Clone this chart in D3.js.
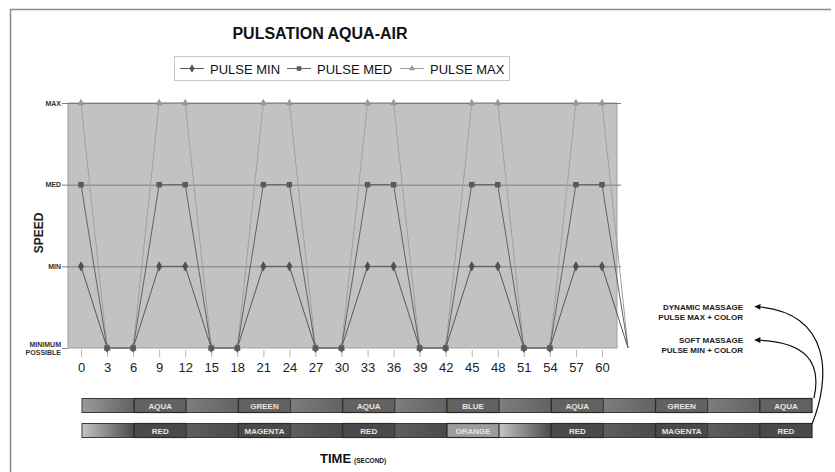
<!DOCTYPE html>
<html>
<head>
<meta charset="utf-8">
<script src="https://cdn.jsdelivr.net/npm/d3@7"></script>
<style>
  html, body { margin: 0; padding: 0; background: #fff; }
  svg { display: block; font-family: "Liberation Sans", Arial, sans-serif; }
</style>
</head>
<body>
<svg id="chart" width="835" height="472"></svg>
<script>
// Time in seconds (one point every 3 s, the last one runs past the frame)
const times = [0, 3, 6, 9, 12, 15, 18, 21, 24, 27, 30, 33, 36, 39, 42, 45, 48, 51, 54, 57, 60, 63];
const tickTimes = [0, 3, 6, 9, 12, 15, 18, 21, 24, 27, 30, 33, 36, 39, 42, 45, 48, 51, 54, 57, 60];

// Speed level: 0 = minimum possible, 1 = MIN, 2 = MED, 3 = MAX
const pulseMin = [1, 0, 0, 1, 1, 0, 0, 1, 1, 0, 0, 1, 1, 0, 0, 1, 1, 0, 0, 1, 1, 0];
const pulseMed = [2, 0, 0, 2, 2, 0, 0, 2, 2, 0, 0, 2, 2, 0, 0, 2, 2, 0, 0, 2, 2, 0];
const pulseMax = [3, 0, 0, 3, 3, 0, 0, 3, 3, 0, 0, 3, 3, 0, 0, 3, 3, 0, 0, 3, 3, 0];

const seriesNames = ["PULSE MIN", "PULSE MED", "PULSE MAX"];
const speedLevels = [0, 1, 2, 3];
const speedLabels = [["MINIMUM", "POSSIBLE"], ["MIN"], ["MED"], ["MAX"]];

// Colour programmes shown under the time axis (one block every 6 s)
const colorsTop = ["AQUA", "GREEN", "AQUA", "BLUE", "AQUA", "GREEN", "AQUA"];
const colorsBottom = ["RED", "MAGENTA", "RED", "ORANGE", "RED", "MAGENTA", "RED"];

const svg = d3.select("#chart");

const plot = { left: 68, right: 615, top: 103, bottom: 348 };
const x = d3.scaleLinear().domain([-1.5, 61.5]).range([plot.left, plot.right]);
const y = d3.scaleLinear().domain([0, 3]).range([plot.bottom, plot.top]);

// Outer frame (left and top edges)
svg.append("path")
  .attr("d", "M10.5,472 L10.5,9.5 L831,9.5")
  .attr("fill", "none").attr("stroke", "#8a8a8a").attr("stroke-width", 1.5);

// Title
svg.append("text")
  .attr("x", 320).attr("y", 39).attr("text-anchor", "middle")
  .attr("font-size", 16).attr("font-weight", "bold").attr("fill", "#111")
  .text("PULSATION AQUA-AIR");

// Plot background
svg.append("rect")
  .attr("x", plot.left).attr("y", plot.top)
  .attr("width", plot.right + 2 - plot.left).attr("height", plot.bottom - plot.top)
  .attr("fill", "#c2c2c2").attr("stroke", "#a0a0a0").attr("stroke-width", 1);

// Horizontal grid lines with their left ticks
svg.append("g").selectAll("line").data(speedLevels.slice(1)).join("line")
  .attr("x1", plot.left - 6).attr("x2", plot.right + 6)
  .attr("y1", d => y(d) + 0.5).attr("y2", d => y(d) + 0.5)
  .attr("stroke", "#7c7c7c").attr("stroke-width", 1);
svg.append("line")
  .attr("x1", plot.left - 6).attr("x2", plot.left)
  .attr("y1", y(0) + 0.5).attr("y2", y(0) + 0.5)
  .attr("stroke", "#9a9a9a");

// Time axis
const xAxis = d3.axisBottom(x).tickValues(tickTimes).tickSize(7).tickPadding(6).tickFormat(d3.format("d"));
const gx = svg.append("g").attr("transform", `translate(0,${plot.bottom + 2})`).call(xAxis);
gx.select(".domain").remove();
gx.selectAll(".tick line").attr("stroke", "#b5b5b5");
gx.selectAll(".tick text").attr("font-size", 13).attr("fill", "#222")
  .attr("font-family", "Liberation Sans, Arial, sans-serif");

// Speed level labels
const yl = svg.append("g").selectAll("text").data(speedLevels).join("text")
  .attr("text-anchor", "end").attr("font-size", 7).attr("font-weight", "bold").attr("fill", "#333")
  .attr("x", plot.left - 7)
  .attr("y", d => d === 0 ? y(d) - 1 : y(d) + 2.5);
yl.selectAll("tspan").data(d => speedLabels[d]).join("tspan")
  .attr("x", plot.left - 7)
  .attr("dy", (d, i) => i === 0 ? 0 : 8)
  .text(d => d);

svg.append("text")
  .attr("transform", `translate(43,233) rotate(-90)`)
  .attr("text-anchor", "middle").attr("font-size", 12).attr("font-weight", "bold").attr("fill", "#222")
  .text("SPEED");

// Series
const series = [
  { name: seriesNames[0], values: pulseMin, color: "#585858", marker: d3.symbolDiamond, size: 30, mcolor: "#505050" },
  { name: seriesNames[1], values: pulseMed, color: "#626262", marker: d3.symbolSquare, size: 30, mcolor: "#5a5a5a" },
  { name: seriesNames[2], values: pulseMax, color: "#a0a0a0", marker: d3.symbolTriangle, size: 24, mcolor: "#989898" }
];
const drawOrder = [0, 2, 1];
const line = d3.line().x((d, i) => x(times[i])).y(d => y(d));

drawOrder.forEach(k => {
  const s = series[k];
  svg.append("path").datum(s.values)
    .attr("d", line).attr("fill", "none")
    .attr("stroke", s.color).attr("stroke-width", 1);
});
drawOrder.forEach(k => {
  const s = series[k];
  svg.append("g").selectAll("path").data(s.values.slice(0, tickTimes.length)).join("path")
    .attr("transform", (d, i) => `translate(${x(times[i])},${y(d)})`)
    .attr("d", d3.symbol().type(s.marker).size(s.size))
    .attr("fill", s.mcolor);
});

// Legend
const legend = svg.append("g");
legend.append("rect").attr("x", 174.5).attr("y", 56.5).attr("width", 335).attr("height", 24)
  .attr("fill", "#fff").attr("stroke", "#c8c8c8");
const legendX = [180, 287, 400];
series.forEach((s, i) => {
  const g = legend.append("g").attr("transform", `translate(${legendX[i]},68.5)`);
  g.append("line").attr("x1", 0).attr("x2", 24).attr("stroke", s.color).attr("stroke-width", 1);
  g.append("path").attr("transform", "translate(12,0)")
    .attr("d", d3.symbol().type(s.marker).size(s.size * 0.7)).attr("fill", s.mcolor);
  g.append("text").attr("x", 30).attr("y", 5).attr("font-size", 13).attr("fill", "#111").text(s.name);
});

// Colour programme strips
const sx = d3.scaleLinear().domain([0, 84]).range([82, 812]);
const defs = svg.append("defs");
function grad(id, c1, c2) {
  const g = defs.append("linearGradient").attr("id", id);
  g.append("stop").attr("offset", "0%").attr("stop-color", c1);
  g.append("stop").attr("offset", "100%").attr("stop-color", c2);
}
grad("gapTop", "#7e7e7e", "#626262");
grad("gapTopFirst", "#9a9a9a", "#626262");
grad("gapBottomFade", "#c4c4c4", "#4a4a4a");
grad("gapBottom", "#5e5e5e", "#4a4a4a");

function strip(labels, top, boxFill, gapFill, firstGap, fadeAfter) {
  const g = svg.append("g");
  labels.forEach((lab, i) => {
    const t0 = i * 12;
    // plain block before each labelled block
    g.append("rect")
      .attr("x", sx(t0)).attr("y", top).attr("width", sx(t0 + 6) - sx(t0)).attr("height", 14)
      .attr("fill", i === 0 || fadeAfter.includes(i - 1) ? `url(#${firstGap})` : `url(#${gapFill})`)
      .attr("stroke", "#3a3a3a").attr("stroke-width", 1);
    g.append("rect")
      .attr("x", sx(t0 + 6)).attr("y", top).attr("width", sx(t0 + 12) - sx(t0 + 6)).attr("height", 14)
      .attr("fill", boxFill(lab)).attr("stroke", "#2a2a2a").attr("stroke-width", 1.2);
    g.append("text")
      .attr("x", (sx(t0 + 6) + sx(t0 + 12)) / 2).attr("y", top + 10)
      .attr("text-anchor", "middle").attr("font-size", 8).attr("font-weight", "bold")
      .attr("fill", "#e4e4e4").text(lab);
  });
}
strip(colorsTop, 398.5, () => "#626262", "gapTop", "gapTopFirst", []);
strip(colorsBottom, 423.5, lab => lab === "ORANGE" ? "#9c9c9c" : "#4a4a4a", "gapBottom", "gapBottomFade",
  colorsBottom.map((l, i) => l === "ORANGE" ? i : -1).filter(i => i >= 0));

// Time axis title
const tt = svg.append("text").attr("x", 320).attr("y", 463).attr("fill", "#111").attr("font-weight", "bold");
tt.append("tspan").attr("font-size", 13).text("TIME");
tt.append("tspan").attr("font-size", 6.5).attr("dx", 3).text("(SECOND)");

// Massage notes with curved arrows
defs.append("marker").attr("id", "arrow").attr("viewBox", "0 0 10 10")
  .attr("refX", 9).attr("refY", 5).attr("markerWidth", 8).attr("markerHeight", 6)
  .attr("markerUnits", "userSpaceOnUse").attr("orient", "auto")
  .append("path").attr("d", "M0,0 L10,5 L0,10 Z").attr("fill", "#111");

const notes = [
  { lines: ["DYNAMIC MASSAGE", "PULSE MAX + COLOR"], y: 310, path: "M812,424 C830,380 834,312 755,306.5" },
  { lines: ["SOFT MASSAGE", "PULSE MIN + COLOR"], y: 343, path: "M814,398 C822,362 806,341 755,340" }
];
notes.forEach(n => {
  const t = svg.append("text").attr("text-anchor", "end").attr("font-size", 8).attr("font-weight", "bold").attr("fill", "#1a1a1a");
  n.lines.forEach((l, i) => t.append("tspan").attr("x", 743).attr("y", n.y + i * 10).text(l));
  svg.append("path").attr("d", n.path).attr("fill", "none").attr("stroke", "#111").attr("stroke-width", 1.2)
    .attr("marker-end", "url(#arrow)");
});
</script>
</body>
</html>
